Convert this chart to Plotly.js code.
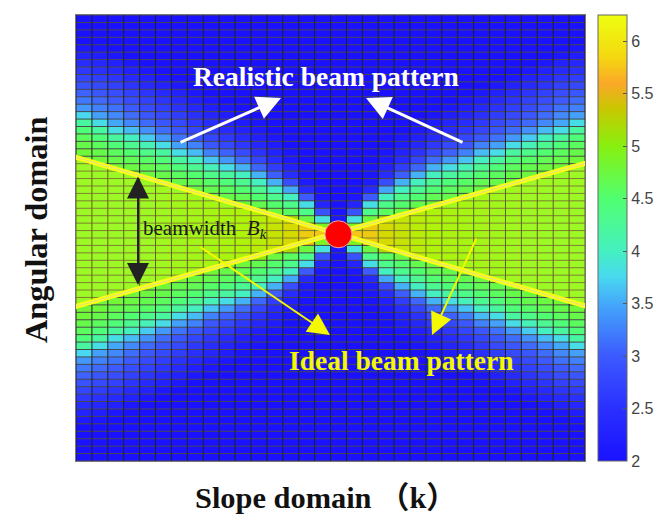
<!DOCTYPE html>
<html>
<head>
<meta charset="utf-8">
<script src="https://cdn.plot.ly/plotly-3.0.1.min.js"></script>
<style>html,body{margin:0;padding:0;background:#fff}</style>
</head>
<body>
<div id="graph" style="width:664px;height:519px"></div>
<script>
// Upper left quarter of the pattern, read column by column (rows 0-29, top to bottom)
const col0 = [2,2,2,2,2.12,2.28,2.45,2.6,2.75,2.9,3.05,3.2,3.4,3.75,4.2,4.45,4.6,4.7,4.78,4.8,4.8,4.8,4.8,4.8,4.8,4.8,4.8,4.8,4.8,4.8];
const col1 = [2,2,2,2,2.05,2.18,2.35,2.5,2.65,2.8,2.95,3.1,3.25,3.45,3.8,4.2,4.45,4.6,4.7,4.78,4.8,4.8,4.8,4.8,4.8,4.8,4.8,4.8,4.8,4.8];
const col2 = [2,2,2,2,2,2.08,2.25,2.4,2.55,2.7,2.85,3,3.15,3.3,3.5,3.8,4.2,4.45,4.6,4.7,4.8,4.8,4.8,4.8,4.8,4.8,4.8,4.8,4.8,4.8];
const col3 = [2,2,2,2,2,2,2.1,2.25,2.4,2.55,2.7,2.85,3,3.12,3.3,3.6,4,4.3,4.5,4.65,4.75,4.8,4.8,4.8,4.8,4.8,4.8,4.8,4.8,4.8];
const col4 = [2,2,2,2,2,2,2,2.1,2.25,2.4,2.55,2.7,2.82,2.95,3.1,3.35,3.68,4.05,4.35,4.55,4.68,4.76,4.8,4.82,4.82,4.82,4.82,4.82,4.82,4.82];
const col5 = [2,2,2,2,2,2,2,2,2.1,2.25,2.4,2.55,2.68,2.8,2.95,3.12,3.4,3.8,4.2,4.45,4.6,4.7,4.78,4.85,4.85,4.85,4.85,4.85,4.85,4.85];
const col6 = [2,2,2,2,2,2,2,2,2,2.1,2.25,2.4,2.52,2.65,2.8,2.95,3.15,3.45,3.8,4.2,4.45,4.6,4.7,4.8,4.87,4.87,4.87,4.87,4.87,4.87];
const col7 = [2,2,2,2,2,2,2,2,2,2,2.1,2.22,2.35,2.48,2.6,2.75,2.95,3.25,3.6,4,4.3,4.5,4.65,4.75,4.9,4.9,4.9,4.9,4.9,4.9];
const col8 = [2,2,2,2,2,2,2,2,2,2,2,2.1,2.2,2.32,2.45,2.58,2.75,2.95,3.25,3.65,4.05,4.35,4.55,4.68,4.8,4.93,4.93,4.93,4.93,4.93];
const col9 = [2,2,2,2,2,2,2,2,2,2,2,2,2.08,2.18,2.3,2.42,2.58,2.78,3.05,3.4,3.8,4.2,4.45,4.6,4.7,4.85,4.96,4.96,4.96,4.96];
const col10 = [2,2,2,2,2,2,2,2,2,2,2,2,2,2.05,2.15,2.27,2.4,2.58,2.82,3.12,3.55,4,4.3,4.5,4.65,4.78,5,5.02,5.02,5.02];
const col11 = [2,2,2,2,2,2,2,2,2,2,2,2,2,2,2.05,2.12,2.22,2.35,2.52,2.75,3.08,3.55,4,4.3,4.5,4.68,5.05,5.1,5.1,5.1];
const col12 = [2,2,2,2,2,2,2,2,2,2,2,2,2,2,2,2,2.08,2.16,2.26,2.42,2.66,3.02,3.55,4,4.32,4.52,4.75,5.18,5.2,5.2];
const col13 = [2,2,2,2,2,2,2,2,2,2,2,2,2,2,2,2,2,2,2.05,2.12,2.24,2.45,2.85,3.5,4,4.35,4.6,5.2,5.32,5.32];
const col14 = [2,2,2,2,2,2,2,2,2,2,2,2,2,2,2,2,2,2,2,2,2.03,2.08,2.15,2.4,3,3.8,4.35,4.75,5.5,5.5];
const col15 = [2,2,2,2,2,2,2,2,2,2,2,2,2,2,2,2,2,2,2,2,2,2,2,2.03,2.08,2.3,2.9,3.85,4.9,5.55];
const col16 = [2,2,2,2,2,2,2,2,2,2,2,2,2,2,2,2,2,2,2,2,2,2,2,2,2,2.02,2.05,2.1,2.3,3];
const quarter = [col0,col1,col2,col3,col4,col5,col6,col7,col8,col9,col10,col11,col12,col13,col14,col15,col16];

const colorTicks = [2,2.5,3,3.5,4,4.5,5,5.5,6];

// Ideal beam lines and wedge, in column / row units
const upperLineX = [-0.56, 31.63];
const upperLineY = [18.6, 38.72];
const lowerLineX = [-0.56, 31.63];
const lowerLineY = [38.74, 19.37];
const wedgeX = [-0.5, 16, -0.5, -0.5, null, 31.5, 16, 31.5, 31.5];
const wedgeY = [18.65, 29, 38.7, 18.65, null, 19.4, 29, 38.7, 19.4];
const peakX = [16];
const peakY = [29];

// the pattern is mirrored around column 16 and row 29
let z = [];
for (let r = 0; r < 60; r++) {
    let rr = r <= 29 ? r : (r <= 58 ? 58 - r : 0);
    let row = [];
    for (let c = 0; c < 32; c++) {
        row.push(quarter[c <= 16 ? c : 32 - c][rr]);
    }
    z.push(row);
}

// cell borders
let vertX = [], vertY = [], horizX = [], horizY = [];
for (let c = 0; c <= 32; c++) {
    vertX.push(c - 0.5, c - 0.5, null);
    vertY.push(-0.5, 59.5, null);
}
for (let r = 0; r <= 60; r++) {
    horizX.push(-0.5, 31.5, null);
    horizY.push(r - 0.5, r - 0.5, null);
}

const zMin = 2, zMax = 6.25;
function stop(v) { return (v - zMin) / (zMax - zMin); }
const colors = [
    [stop(2), '#1a12ff'], [stop(2.5), '#2a30ff'], [stop(3), '#3c5aff'],
    [stop(3.5), '#44a8fa'], [stop(3.75), '#48d8f0'], [stop(4), '#45f0c0'],
    [stop(4.5), '#50ff70'], [stop(5), '#88f010'], [stop(5.35), '#c8c800'],
    [stop(5.6), '#fba828'], [stop(5.85), '#f4d810'], [stop(6.25), '#eeff10']
];

// image pixel -> column / row, used for the labels and arrows
function colAt(px) { return (px - 76) / 15.906 - 0.5; }
function rowAt(py) { return (py - 15) / 7.433 - 0.5; }

const serif = '"Liberation Serif", "Noto Sans CJK SC", serif';

function label(text, px, py, size, color, bold) {
    return {
        x: colAt(px), y: rowAt(py), xref: 'x', yref: 'y', showarrow: false,
        text: bold ? '<b>' + text + '</b>' : text,
        xanchor: 'center', yanchor: 'middle',
        font: { family: serif, size: size, color: color }
    };
}

// axis titles sit outside the plot, so they go by paper position
function outerLabel(text, px, py, size, angle) {
    return {
        x: (px - 76) / 509, y: 1 - (py - 15) / 446, xref: 'paper', yref: 'paper', showarrow: false,
        text: '<b>' + text + '</b>', textangle: angle,
        xanchor: 'center', yanchor: 'middle',
        font: { family: serif, size: size, color: '#111' }
    };
}

function arrow(x0, y0, x1, y1, color, width, size, side) {
    return {
        x: colAt(x1), y: rowAt(y1), ax: colAt(x0), ay: rowAt(y0),
        xref: 'x', yref: 'y', axref: 'x', ayref: 'y', text: '',
        showarrow: true, arrowhead: 2, arrowsize: size, arrowwidth: width,
        arrowcolor: color, arrowside: side || 'end', standoff: 0, startstandoff: 0,
        startarrowhead: 2, startarrowsize: size
    };
}

function overlay(x, y, color, width) {
    return { x: x, y: y, mode: 'lines', line: { color: color, width: width }, cliponaxis: false, hoverinfo: 'skip', showlegend: false };
}

const traces = [
    {
        type: 'heatmap', z: z, zmin: zMin, zmax: zMax, colorscale: colors, hoverinfo: 'skip',
        colorbar: {
            x: 1.0255, xanchor: 'left', xpad: 0, ypad: 0, y: 0.5, len: 1,
            thicknessmode: 'pixels', thickness: 29,
            outlinecolor: '#666', outlinewidth: 1,
            tickmode: 'array', tickvals: colorTicks, ticktext: colorTicks.map(String),
            ticks: 'inside', ticklen: 4, tickcolor: '#555', tickwidth: 1,
            tickfont: { family: '"Liberation Sans", Arial, sans-serif', size: 16, color: '#444' }
        }
    },
    { x: horizX, y: horizY, mode: 'lines', line: { color: '#4a4a4a', width: 1 }, hoverinfo: 'skip', showlegend: false },
    { x: vertX, y: vertY, mode: 'lines', line: { color: '#222222', width: 1 }, hoverinfo: 'skip', showlegend: false },
    { x: wedgeX, y: wedgeY, mode: 'none', fill: 'toself', fillcolor: 'rgba(255,255,0,0.3)', hoverinfo: 'skip', showlegend: false },
    overlay(upperLineX, upperLineY, '#fbff14', 5),
    overlay(lowerLineX, lowerLineY, '#fbff14', 5),
    overlay(upperLineX, upperLineY, 'rgba(215,215,170,0.8)', 1),
    overlay(lowerLineX, lowerLineY, 'rgba(215,215,170,0.8)', 1),
    { x: peakX, y: peakY, mode: 'markers', marker: { size: 27, color: '#ff0000', line: { color: '#f0a8a8', width: 1 } }, hoverinfo: 'skip', showlegend: false }
];

const layout = {
    width: 664, height: 519,
    margin: { l: 76, r: 79, t: 15, b: 58, autoexpand: false },
    paper_bgcolor: '#fff', plot_bgcolor: '#fff',
    showlegend: false,
    xaxis: { range: [-0.5, 31.5], showgrid: false, zeroline: false, showticklabels: false, ticks: '', showline: true, mirror: true, linecolor: '#777', linewidth: 1 },
    yaxis: { range: [59.5, -0.5], showgrid: false, zeroline: false, showticklabels: false, ticks: '', showline: true, mirror: true, linecolor: '#777', linewidth: 1 },
    annotations: [
        label('Realistic beam pattern', 326, 76, 27.5, '#ffffff', true),
        label('Ideal beam pattern', 401, 360, 27.5, '#f4f800', true),
        label('beamwidth  <i>B<sub>k</sub></i>', 204.5, 229, 21, '#1a1a1a', false),
        outerLabel('Angular domain', 36, 230, 32.3, -90),
        outerLabel('Slope domain （k）', 326, 498, 30.4, 0),
        arrow(179, 143, 281, 98, '#ffffff', 3, 1.6),
        arrow(464, 143, 366, 98, '#ffffff', 3, 1.6),
        arrow(199, 246, 330, 335, '#f4f800', 2, 2.2),
        arrow(477, 237, 432, 335, '#f4f800', 2, 2.2),
        arrow(138, 175, 138, 285, '#222222', 2, 2.2, 'end+start')
    ]
};

Plotly.newPlot('graph', traces, layout, { displayModeBar: false, staticPlot: true });
</script>
</body>
</html>
